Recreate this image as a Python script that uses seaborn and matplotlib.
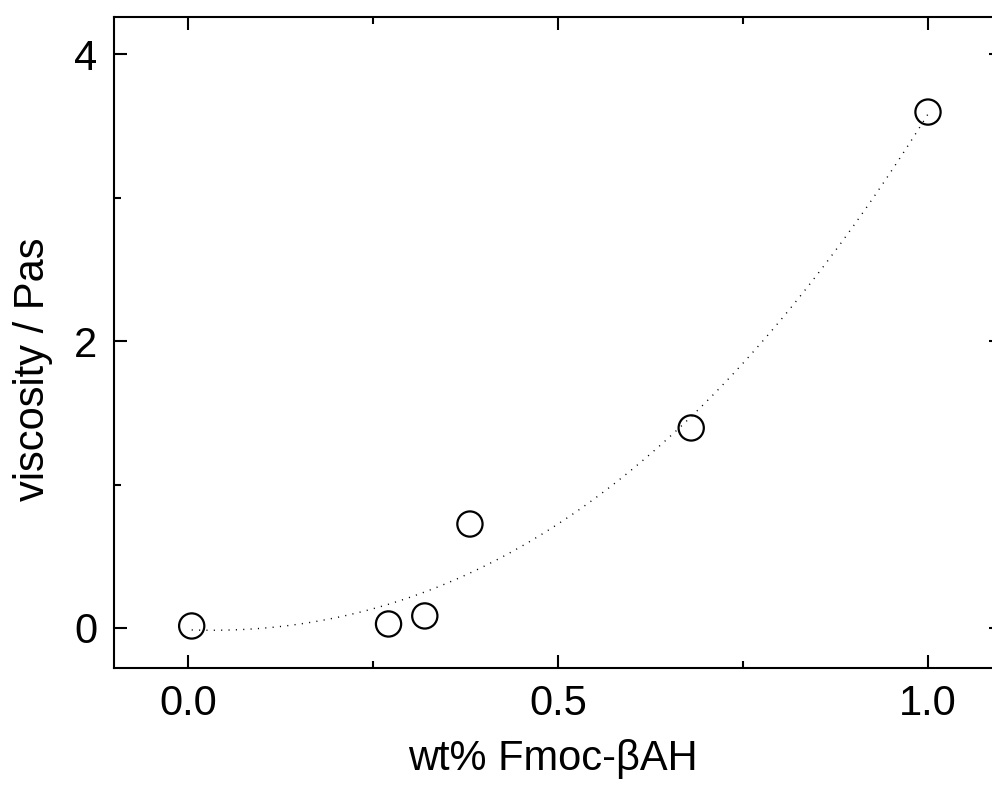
import matplotlib
matplotlib.use("Agg")
import matplotlib.pyplot as plt
import seaborn as sns
import numpy as np
import pandas as pd
from matplotlib.ticker import MultipleLocator

# data
wt_percent = [0.005, 0.271, 0.320, 0.381, 0.680, 1.000]
viscosity = [0.014, 0.028, 0.084, 0.725, 1.395, 3.598]
x_ticks = [0.0, 0.5, 1.0]
x_tick_labels = ["0.0", "0.5", "1.0"]
y_ticks = [0, 2, 4]
y_tick_labels = ["0", "2", "4"]

df = pd.DataFrame({"wt": wt_percent, "visc": viscosity})

sns.set_theme(style="ticks")
plt.rcParams["font.family"] = ["Liberation Sans", "DejaVu Sans"]

fig = plt.figure(figsize=(9.92, 8.0), dpi=100)
ax = fig.add_axes([114 / 992, 1 - 667.7 / 800, 888 / 992, 651 / 800])

sns.regplot(data=df, x="wt", y="visc", order=3, ci=None, scatter=False,
            truncate=True, ax=ax,
            line_kws=dict(color="black", lw=1.0, dashes=(0.8, 4.5)))
sns.scatterplot(data=df, x="wt", y="visc", ax=ax, marker="o", s=330,
                facecolor="none", edgecolor="black", linewidth=1.6, zorder=3)

ax.set_xlim(-0.1, 1.1)
ax.set_ylim(-0.277, 4.263)

ax.set_xticks(x_ticks)
ax.set_xticklabels(x_tick_labels)
ax.set_yticks(y_ticks)
ax.set_yticklabels(y_tick_labels)
ax.xaxis.set_minor_locator(MultipleLocator(0.25))
ax.yaxis.set_minor_locator(MultipleLocator(1))

ax.tick_params(which="both", direction="in", top=True, right=True,
               width=1.5, color="black", labelsize=30, labelcolor="black")
ax.tick_params(which="major", length=9.5)
ax.tick_params(which="minor", length=4.8)
ax.tick_params(axis="x", which="major", pad=12)
ax.tick_params(axis="y", which="major", pad=12)

for sp in ax.spines.values():
    sp.set_visible(True)
    sp.set_linewidth(1.5)
    sp.set_color("black")

ax.set_xlabel("wt% Fmoc-βAH", fontsize=30, color="black")
ax.set_ylabel("viscosity / Pas", fontsize=30, color="black")
ax.xaxis.set_label_coords(0.494, -0.110)
ax.yaxis.set_label_coords(-0.069, 0.459)

fig.savefig("out.png", dpi=100)
